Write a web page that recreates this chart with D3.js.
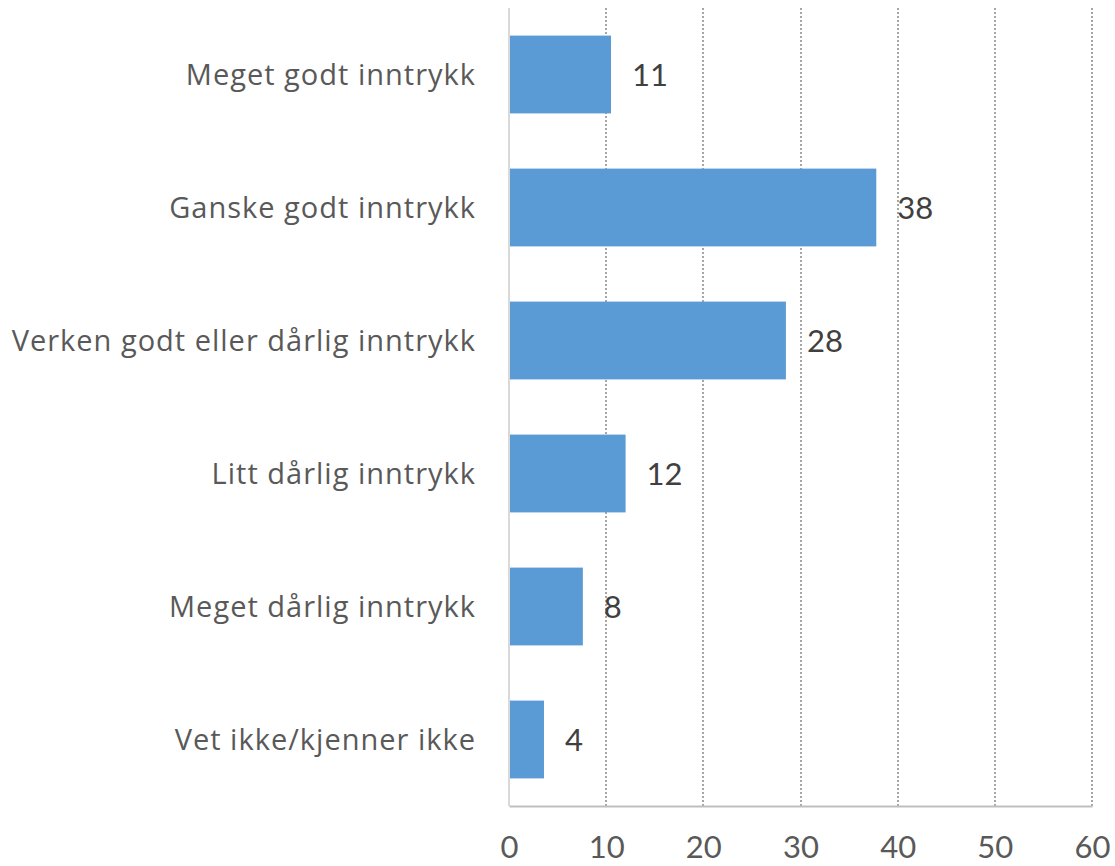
<!DOCTYPE html>
<html>
<head>
<meta charset="utf-8">
<script src="https://cdn.jsdelivr.net/npm/d3@7"></script>
<style>
  html, body { margin: 0; padding: 0; background: #fff; }
  svg { display: block; font-family: Lato, "Open Sans", sans-serif; }
</style>
</head>
<body>
<svg id="chart" width="1115" height="866"></svg>
<script>
// Survey answers — bar lengths, labels as printed
const categories = [
  'Meget godt inntrykk',
  'Ganske godt inntrykk',
  'Verken godt eller dårlig inntrykk',
  'Litt dårlig inntrykk',
  'Meget dårlig inntrykk',
  'Vet ikke/kjenner ikke'
];
const values = [10.5, 37.8, 28.5, 12.0, 7.6, 3.6];
const valueLabels = ['11', '38', '28', '12', '8', '4'];
const xTicks = [0, 10, 20, 30, 40, 50, 60];

const margin = { top: 8, right: 23, bottom: 60, left: 509 };
const W = 1115, H = 866;
const innerW = W - margin.left - margin.right;
const innerH = H - margin.top - margin.bottom;

const svg = d3.select('#chart');
const g = svg.append('g').attr('transform', `translate(${margin.left},${margin.top})`);

const x = d3.scaleLinear().domain([0, 60]).range([0, innerW]);
const y = d3.scaleBand().domain(categories).range([0, innerH]).paddingInner(0.415).paddingOuter(0.2075);

// Vertical gridlines (dotted), zero line solid; snapped to whole pixels
g.selectAll('.grid').data(xTicks).join('line')
  .attr('x1', d => Math.round(x(d))).attr('x2', d => Math.round(x(d)))
  .attr('y1', 0).attr('y2', innerH)
  .attr('stroke', d => d === 0 ? '#d9d9d9' : '#a6a6a6')
  .attr('stroke-width', 2)
  .attr('stroke-dasharray', d => d === 0 ? null : '2,2');

// Bars
g.selectAll('.bar').data(values).join('rect')
  .attr('x', x(0) + 1)
  .attr('y', (d, i) => y(categories[i]))
  .attr('width', d => x(d) - x(0) - 1)
  .attr('height', y.bandwidth())
  .attr('fill', '#5b9bd5');

// Value labels
g.selectAll('.val').data(values).join('text')
  .attr('x', d => x(d) + 21)
  .attr('y', (d, i) => y(categories[i]) + y.bandwidth() / 2)
  .attr('dy', '0.36em')
  .attr('fill', '#404040')
  .attr('font-size', 31)
  .text((d, i) => valueLabels[i]);

// Category labels
g.selectAll('.cat').data(categories).join('text')
  .attr('x', -33)
  .attr('y', d => y(d) + y.bandwidth() / 2)
  .attr('dy', '0.36em')
  .attr('text-anchor', 'end')
  .attr('fill', '#595959')
  .attr('font-family', '"Open Sans", Lato, sans-serif')
  .attr('font-size', 29)
  .attr('letter-spacing', 1)
  .text(d => d);

// Bottom axis
const xAxis = d3.axisBottom(x).tickValues(xTicks).tickSize(0).tickPadding(30);
const ax = g.append('g').attr('transform', `translate(0,${innerH})`).call(xAxis);
ax.select('.domain').attr('stroke', '#bfbfbf').attr('stroke-width', 2);
ax.selectAll('text')
  .attr('fill', '#595959')
  .attr('font-size', 31)
  .attr('font-family', 'Lato, "Open Sans", sans-serif');
</script>
</body>
</html>
